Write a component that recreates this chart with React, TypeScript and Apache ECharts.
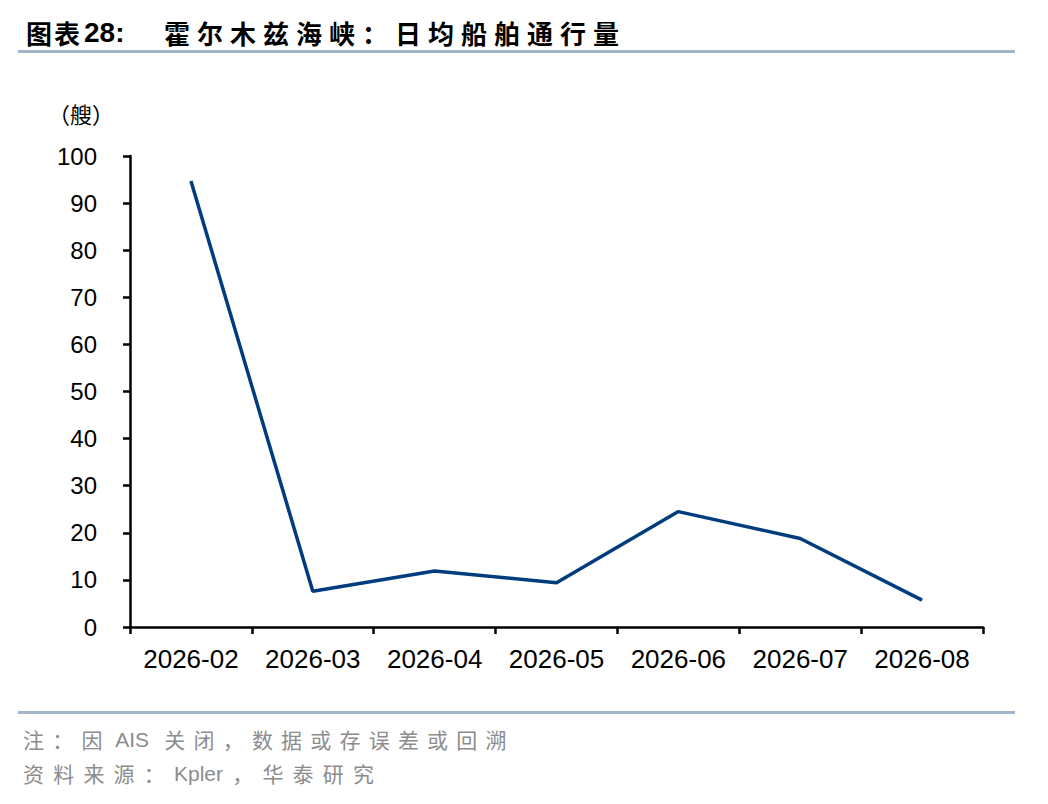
import React, { useEffect, useRef } from "react";
import * as echarts from "echarts";

const categories = ["2026-02", "2026-03", "2026-04", "2026-05", "2026-06", "2026-07", "2026-08"];
const shipsPerDay = [94.7, 7.6, 11.9, 9.4, 24.5, 18.8, 5.7];
const yTicks = { min: 0, max: 100, interval: 10 };

const titlePrefix = ["图", "表"];
const titleNumber = "28:";
const titleMain = "霍尔木兹海峡：日均船舶通行量";
const unitText = "（艘）";
const noteText = "注：因 AIS 关闭，数据或存误差或回溯";
const sourceText = "资料来源：Kpler，华泰研究";

const CJK = '"Noto Sans CJK SC", "Liberation Sans", sans-serif';
const LATIN = '"Liberation Sans", Arial, sans-serif';

function measure(text: string, font: string): number {
  const c = document.createElement("canvas").getContext("2d");
  if (!c) return text.length * 10;
  c.font = font;
  return c.measureText(text).width;
}

// split into units: each CJK char is one unit, ASCII runs are one unit
function units(text: string): string[] {
  const out: string[] = [];
  let run = "";
  for (const ch of text) {
    if (ch.charCodeAt(0) < 0x2e80) {
      run += ch;
    } else {
      if (run) {
        out.push(run);
        run = "";
      }
      out.push(ch);
    }
  }
  if (run) out.push(run);
  return out;
}

function spacedText(text: string, x: number, y: number, size: number, spacing: number, fill: string, weight = "normal") {
  const els: any[] = [];
  let cx = x;
  for (const u of units(text)) {
    const isAscii = u.charCodeAt(0) < 0x2e80;
    const font = `${weight} ${size}px ${isAscii ? LATIN : CJK}`;
    els.push({
      type: "text",
      x: cx,
      y,
      style: { text: u, font, fill, verticalAlign: "middle" },
    });
    cx += (isAscii ? measure(u, font) : size) + spacing;
  }
  return els;
}

export default function App() {
  const ref = useRef<HTMLDivElement>(null);
  useEffect(() => {
    document.body.style.margin = "0";
    if (!ref.current) return;
    const chart = echarts.init(ref.current, null, { renderer: "svg" });

    const titleEls: any[] = [
      ...spacedText(titlePrefix.join(""), 26, 32, 26, 2, "#000", "bold"),
      {
        type: "text",
        x: 84,
        y: 32,
        style: { text: titleNumber, font: `bold 28px ${LATIN}`, fill: "#000", verticalAlign: "middle" },
      },
      ...spacedText(titleMain, 164, 32, 26, 7, "#000", "bold"),
    ];

    chart.setOption({
      animation: false,
      backgroundColor: "#ffffff",
      grid: { left: 130, right: 65, top: 156, bottom: 177, containLabel: false },
      xAxis: {
        type: "category",
        data: categories,
        boundaryGap: true,
        axisLine: { lineStyle: { color: "#000", width: 2.5 } },
        axisTick: { show: true, interval: 0, length: 7, lineStyle: { color: "#000", width: 2.5 } },
        axisLabel: { interval: 0, color: "#000", fontSize: 26, fontFamily: LATIN, margin: 19 },
        splitLine: { show: false },
      },
      yAxis: {
        type: "value",
        min: yTicks.min,
        max: yTicks.max,
        interval: yTicks.interval,
        axisLine: { show: true, lineStyle: { color: "#000", width: 2.5 } },
        axisTick: { show: true, length: 7, lineStyle: { color: "#000", width: 2.5 } },
        axisLabel: { color: "#000", fontSize: 24, fontFamily: LATIN, margin: 33 },
        splitLine: { show: false },
      },
      series: [
        {
          type: "line",
          data: shipsPerDay,
          symbol: "none",
          lineStyle: { color: "#003C7E", width: 3.5 },
        },
      ],
      graphic: [
        ...titleEls,
        {
          type: "rect",
          shape: { x: 18, y: 50, width: 997, height: 3 },
          style: { fill: "#a3b5c9" },
        },
        {
          type: "text",
          x: 48,
          y: 113,
          style: { text: unitText, font: `22px ${CJK}`, fill: "#000", verticalAlign: "middle" },
        },
        {
          type: "rect",
          shape: { x: 18, y: 711, width: 997, height: 3 },
          style: { fill: "#a3b5c9" },
        },
        ...spacedText(noteText, 23, 739, 21, 8.2, "#8c8c8c"),
        ...spacedText(sourceText, 23, 773, 21, 9.2, "#8c8c8c"),
      ],
    });
    return () => chart.dispose();
  }, []);
  return <div ref={ref} style={{ width: 1048, height: 804 }} />;
}
